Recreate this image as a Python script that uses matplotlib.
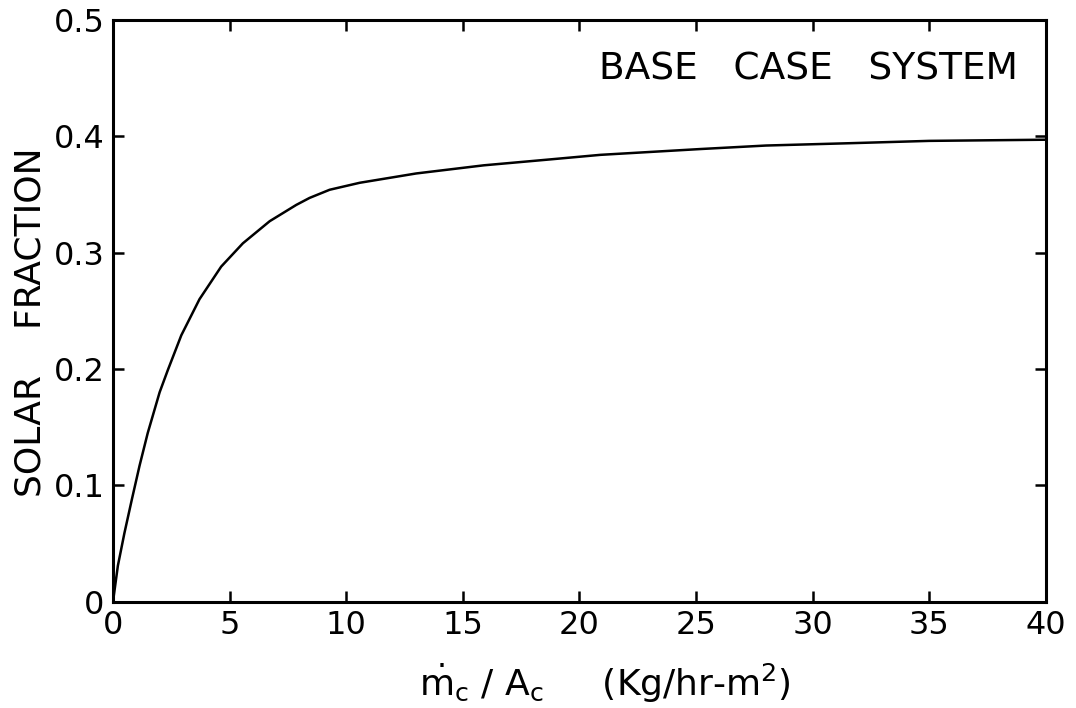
import numpy as np
import matplotlib
matplotlib.use('Agg')
from matplotlib import pyplot as plt

# values
flow_rate = [0, 0.21, 0.49, 0.81, 1.14, 1.49, 2.0, 2.35, 2.93, 3.71, 4.64, 5.57,
             6.72, 7.86, 8.43, 9.29, 10.58, 13.0, 15.9, 18.7, 20.9, 25.2, 28.0,
             31.6, 35.0, 40]
solar_fraction = [0, 0.031, 0.059, 0.088, 0.117, 0.145, 0.180, 0.199, 0.229, 0.26,
                  0.288, 0.308, 0.327, 0.341, 0.347, 0.354, 0.360, 0.368, 0.375,
                  0.380, 0.384, 0.389, 0.392, 0.394, 0.396, 0.397]

x_ticks = [0, 5, 10, 15, 20, 25, 30, 35, 40]
y_ticks = [0, 0.1, 0.2, 0.3, 0.4, 0.5]
y_tick_labels = ['0', '0.1', '0.2', '0.3', '0.4', '0.5']

plt.rcParams['font.family'] = ['DejaVu Sans']
plt.rcParams['mathtext.default'] = 'regular'

fig = plt.figure(figsize=(10.76, 7.08), dpi=100)
ax = fig.add_axes([0.105, 0.150, 0.867, 0.822])

ax.plot(flow_rate, solar_fraction, color='black', linewidth=1.8,
        solid_joinstyle='round')

ax.set_xlim(0, 40)
ax.set_ylim(0, 0.5)
ax.set_xticks(x_ticks)
ax.set_xticklabels([str(t) for t in x_ticks])
ax.set_yticks(y_ticks)
ax.set_yticklabels(y_tick_labels)
ax.tick_params(direction='in', length=8, width=1.8, labelsize=23,
               top=True, right=True, pad=6)
for s in ax.spines.values():
    s.set_linewidth(2.2)

ax.text(0.97, 0.915, 'BASE   CASE   SYSTEM', transform=ax.transAxes,
        ha='right', va='center', fontsize=27)

fig.text(0.028, 0.545, 'SOLAR    FRACTION', rotation=90, ha='center', va='center',
         fontsize=26)
fig.text(0.562, 0.035, r'$\dot{m}_c$ / A$_c$     (Kg/hr-m$^2$)', ha='center', va='center',
         fontsize=26)

fig.savefig('out.png', dpi=100)
plt.close(fig)
